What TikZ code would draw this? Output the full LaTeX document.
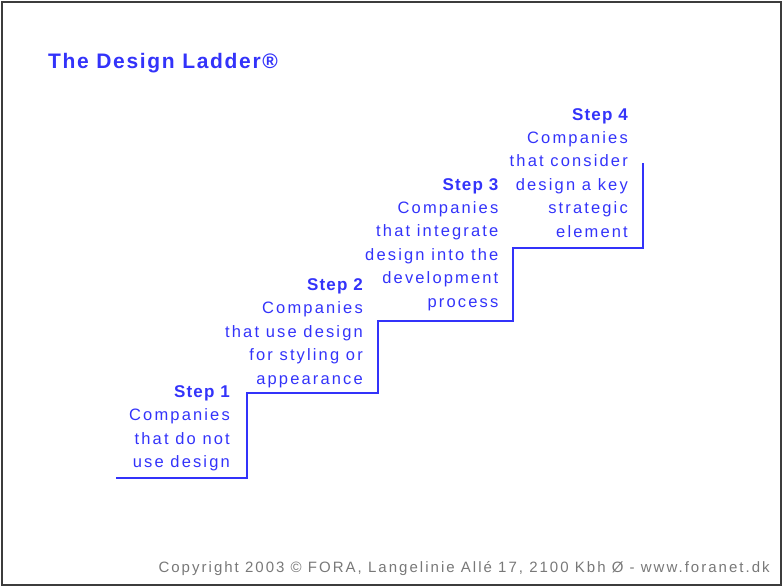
\documentclass[tikz,border=0pt]{standalone}
\usepackage{fontspec}
\setmainfont{Liberation Sans}
\newfontfamily\bodyfont[LetterSpace=13]{Liberation Sans}
\newfontfamily\stepfont[LetterSpace=7]{Liberation Sans}
\newfontfamily\titlefont[LetterSpace=8]{Liberation Sans}
\newfontfamily\copyfont[LetterSpace=13.5]{Liberation Sans}
\newcommand{\stephead}[1]{{\stepfont\bfseries\fontsize{17}{23.4}\selectfont #1}}
\definecolor{ladderblue}{RGB}{51,51,250}
\definecolor{copygrey}{RGB}{120,120,120}
\definecolor{framegrey}{RGB}{60,60,60}
\tikzset{
  steptext/.style={anchor=base east, inner sep=0pt, align=right, text=ladderblue,
    font=\bodyfont\fontsize{16.5}{23.4}\selectfont},
  stair/.style={draw=ladderblue, line width=1.6pt},
  frame/.style={draw=framegrey, line width=1.6pt}
}
\begin{document}
\begin{tikzpicture}[x=1pt,y=-1pt]
\useasboundingbox (0,0) rectangle (783,587);
\draw[frame] (2,2) rectangle (781,585);
\node[anchor=base west, inner sep=0pt, text=ladderblue, font=\titlefont\bfseries\fontsize{21}{24}\selectfont] (title) at (48,68.5) {The Design Ladder®};
\coordinate (c0) at (116,478);
\coordinate (c1) at (247,393);
\coordinate (c2) at (378,321);
\coordinate (c3) at (513,248);
\coordinate (c4) at (643,163);
\draw[stair] (c0) -| (c1) -| (c2) -| (c3) -| (c4);
\node[steptext] (s1) at (230,467.5) {\stephead{Step 1}\\Companies\\that do not\\use design};
\node[steptext] (s2) at (363,384) {\stephead{Step 2}\\Companies\\that use design\\for styling or\\appearance};
\node[steptext] (s3) at (498.5,307) {\stephead{Step 3}\\Companies\\that integrate\\design into the\\development\\process};
\node[steptext] (s4) at (628,237) {\stephead{Step 4}\\Companies\\that consider\\design a key\\strategic\\element};
\node[anchor=base east, inner sep=0pt, text=copygrey, font=\copyfont\fontsize{15}{16}\selectfont] (copy) at (770,572) {Copyright 2003 © FORA, Langelinie Allé 17, 2100 Kbh Ø - www.foranet.dk};
\end{tikzpicture}
\end{document}
